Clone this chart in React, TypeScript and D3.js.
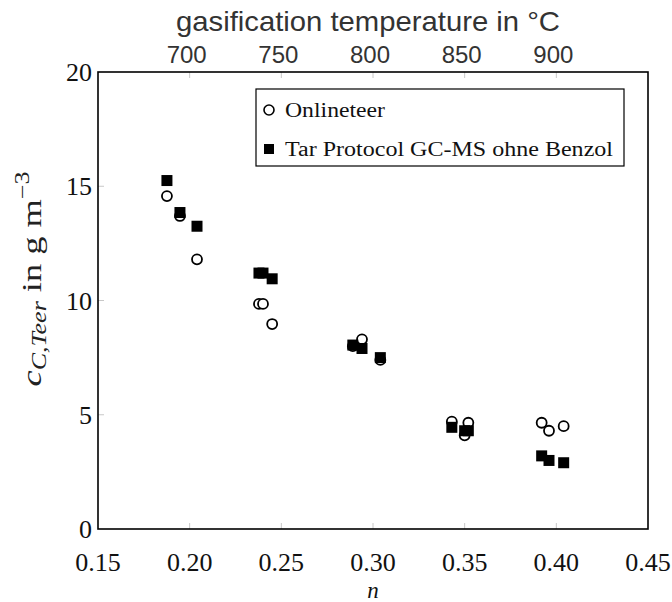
import React from "react";
import * as d3 from "d3";

const onlineN = [0.1876, 0.1947, 0.204, 0.2378, 0.240, 0.245, 0.289, 0.294, 0.304, 0.343, 0.350, 0.352, 0.392, 0.396, 0.404];
const onlineC = [14.57, 13.7, 11.8, 9.85, 9.85, 8.97, 8.0, 8.3, 7.4, 4.7, 4.1, 4.65, 4.65, 4.3, 4.5];
const tarN = [0.1876, 0.1947, 0.204, 0.2378, 0.240, 0.245, 0.289, 0.294, 0.304, 0.343, 0.350, 0.352, 0.392, 0.396, 0.404];
const tarC = [15.25, 13.85, 13.25, 11.2, 11.2, 10.95, 8.05, 7.9, 7.5, 4.45, 4.3, 4.3, 3.2, 3.0, 2.9];
const xTicks = [0.15, 0.2, 0.25, 0.3, 0.35, 0.4, 0.45];
const yTicks = [0, 5, 10, 15, 20];
const topTicks = [700, 750, 800, 850, 900];
const legendLabels = ["Onlineteer", "Tar Protocol GC-MS ohne Benzol"];
const topTitle = "gasification temperature in °C";

const W = 672, H = 602;
const L = 98, R = 648, T = 72, B = 529;
const serif = "'Liberation Serif', 'Times New Roman', serif";
const sans = "'Liberation Sans', Arial, sans-serif";

export default function App() {
  const x = d3.scaleLinear().domain([0.15, 0.45]).range([L, R]);
  const y = d3.scaleLinear().domain([0, 20]).range([B, T]);
  const xTop = d3.scaleLinear().domain([700, 1000]).range([x(0.2), x(0.5)]);
  const tickLen = 6;
  const tickColor = "#c8c8c8";
  const sq = 11;
  return (
    <svg width={W} height={H} style={{ position: "absolute", left: 0, top: 0, background: "#fff" }}>
      <rect x={0} y={0} width={W} height={H} fill="#fff" />
      {/* ticks */}
      {xTicks.slice(1, -1).map((t) => (
        <line key={"xt" + t} x1={x(t)} x2={x(t)} y1={B} y2={B - tickLen} stroke={tickColor} strokeWidth={1} />
      ))}
      {topTicks.map((t) => (
        <line key={"tt" + t} x1={xTop(t)} x2={xTop(t)} y1={T} y2={T + tickLen} stroke={tickColor} strokeWidth={1} />
      ))}
      {yTicks.slice(1, -1).map((t) => (
        <line key={"yt" + t} x1={L} x2={L + tickLen} y1={y(t)} y2={y(t)} stroke={tickColor} strokeWidth={1} />
      ))}
      {/* frame */}
      <rect x={L} y={T} width={R - L} height={B - T} fill="none" stroke="#000" strokeWidth={1.6} />
      {/* bottom labels */}
      {xTicks.map((t) => (
        <text key={"xl" + t} x={x(t)} y={571} textAnchor="middle" fontFamily={serif} fontSize={26} fill="#111">
          {t.toFixed(2)}
        </text>
      ))}
      <text x={(L + R) / 2} y={598} textAnchor="middle" fontFamily={serif} fontSize={23} fontStyle="italic" fill="#111">n</text>
      {/* y labels */}
      {yTicks.map((t) => (
        <text key={"yl" + t} x={92} y={y(t) + 9} textAnchor="end" fontFamily={serif} fontSize={26} fill="#111">
          {t}
        </text>
      ))}
      <g transform={`translate(41, 279) rotate(-90)`}>
        <text textAnchor="middle" fontFamily={serif} fontSize={28} fill="#222" textLength={215} lengthAdjust="spacingAndGlyphs">
          <tspan fontStyle="italic">c</tspan>
          <tspan fontStyle="italic" fontSize={20} dy={5}>C,Teer</tspan>
          <tspan dy={-5}> in g m</tspan>
          <tspan fontSize={20} dy={-12}>−3</tspan>
        </text>
      </g>
      {/* top axis */}
      {topTicks.map((t) => (
        <text key={"tl" + t} x={xTop(t) - 3} y={63} textAnchor="middle" fontFamily={sans} fontSize={24} fill="#333">
          {t}
        </text>
      ))}
      <text x={368} y={31} textAnchor="middle" fontFamily={sans} fontSize={28} fill="#333" textLength={384} lengthAdjust="spacingAndGlyphs">{topTitle}</text>
      {/* data */}
      {onlineN.map((n, i) => (
        <circle key={"c" + i} cx={x(n)} cy={y(onlineC[i])} r={5} fill="#fff" stroke="#000" strokeWidth={1.8} />
      ))}
      {tarN.map((n, i) => (
        <rect key={"s" + i} x={x(n) - sq / 2} y={y(tarC[i]) - sq / 2} width={sq} height={sq} fill="#000" />
      ))}
      {/* legend */}
      <rect x={256} y={89} width={368} height={77} fill="#fff" stroke="#000" strokeWidth={1.2} />
      <circle cx={269} cy={110} r={5} fill="#fff" stroke="#000" strokeWidth={1.6} />
      <text x={285} y={117} fontFamily={serif} fontSize={20} fill="#111" textLength={100} lengthAdjust="spacingAndGlyphs">{legendLabels[0]}</text>
      <rect x={264} y={144} width={10} height={10} fill="#000" />
      <text x={285} y={156} fontFamily={serif} fontSize={20} fill="#111" textLength={328} lengthAdjust="spacingAndGlyphs">{legendLabels[1]}</text>
    </svg>
  );
}
